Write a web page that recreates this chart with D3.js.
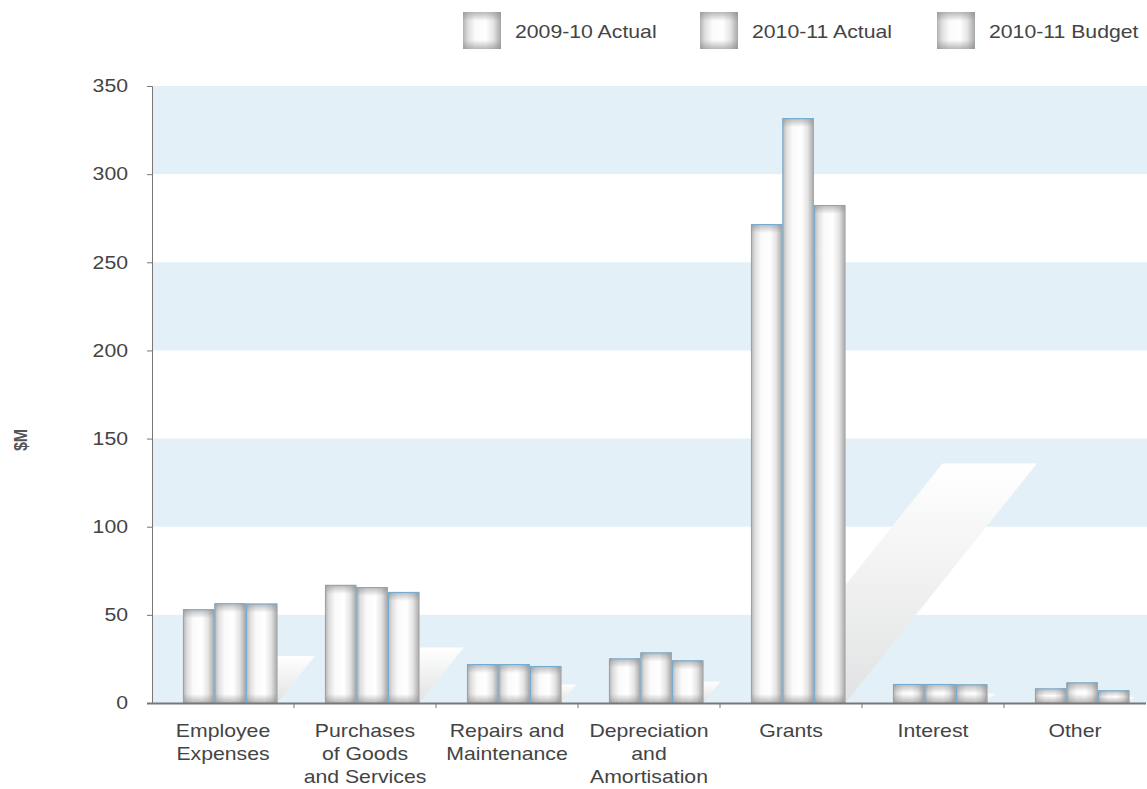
<!DOCTYPE html>
<html>
<head>
<meta charset="utf-8">
<script src="https://cdn.jsdelivr.net/npm/d3@7/dist/d3.min.js"></script>
<style>
  body { margin: 0; background: #fff; }
  text { font-family: "Liberation Sans", Arial, sans-serif; }
</style>
</head>
<body>
<div id="chart-area"></div>
<script>

var categories = [
	["Employee", "Expenses"],
	["Purchases", "of Goods", "and Services"],
	["Repairs and", "Maintenance"],
	["Depreciation", "and", "Amortisation"],
	["Grants"],
	["Interest"],
	["Other"]
];
var seriesNames = ["2009-10 Actual", "2010-11 Actual", "2010-11 Budget"];
var actual0910 = [53.2, 67, 22.1, 25.3, 271.7, 10.8, 8.3];
var actual1011 = [56.6, 65.8, 22.1, 28.7, 331.8, 10.8, 11.7];
var budget1011 = [56.4, 63, 21.0, 24.2, 282.5, 10.6, 7.2];
var yTicks = [0, 50, 100, 150, 200, 250, 300, 350];

var width = 1147, height = 789;
var margin = {top: 86, right: 1, bottom: 86, left: 152};
var stretch = 1.18; // text in the picture is drawn wide

var svg = d3.select("#chart-area").append("svg")
	.attr("width", width)
	.attr("height", height);

var defs = svg.append("defs");

function grad(id, horiz, stops) {
	var g = defs.append("linearGradient").attr("id", id)
		.attr("x1", 0).attr("y1", 0)
		.attr("x2", horiz ? 1 : 0).attr("y2", horiz ? 0 : 1);
	stops.forEach(function(s) {
		g.append("stop").attr("offset", s[0]).attr("stop-color", s[1]).attr("stop-opacity", s[2] == null ? 1 : s[2]);
	});
}
grad("barH", true, [[0, "#b2b2b2"], [0.13, "#dedede"], [0.32, "#fafafa"], [0.6, "#ffffff"], [0.8, "#e4e4e4"], [1, "#a6a6a6"]]);
grad("fadeDown", false, [[0, "#8a8a8a", 0.6], [1, "#8a8a8a", 0]]);
grad("fadeUp", false, [[0, "#8a8a8a", 0], [1, "#8a8a8a", 0.6]]);
grad("shadowGrad", false, [[0, "#ffffff"], [1, "#e1e2e3"]]);

// white box with soft grey edges
function shadedBox(sel, bx, by, bw, bh) {
	var e = function(f) { return typeof f === "function" ? f : function() { return f; }; };
	bx = e(bx); by = e(by); bw = e(bw); bh = e(bh);
	var strip = function(d) { return Math.min(9, bh(d) / 2); };
	sel.append("rect")
		.attr("x", bx).attr("y", by).attr("width", bw).attr("height", bh)
		.attr("fill", "url(#barH)");
	sel.append("rect")
		.attr("x", bx).attr("y", by).attr("width", bw).attr("height", strip)
		.attr("fill", "url(#fadeDown)");
	sel.append("rect")
		.attr("x", bx).attr("y", function(d) { return by(d) + bh(d) - strip(d); })
		.attr("width", bw).attr("height", strip)
		.attr("fill", "url(#fadeUp)");
}

var data = categories.map(function(c, i) {
	return {cat: c.join(" "), lines: c, values: [actual0910[i], actual1011[i], budget1011[i]]};
});

var x0 = d3.scaleBand()
	.domain(data.map(function(d) { return d.cat; }))
	.range([margin.left, width - margin.right]);

var bw = x0.bandwidth();
var groupOffset = bw * 0.218;

var x1 = d3.scaleBand()
	.domain(seriesNames)
	.range([0, bw * 0.665]);

var y = d3.scaleLinear()
	.domain([0, 350])
	.range([height - margin.bottom, margin.top]);

// alternating bands
var bandStarts = yTicks.filter(function(t, i) { return i < yTicks.length - 1 && (t / 50) % 2 == 0; });
svg.selectAll("rect.band")
	.data(bandStarts)
	.enter().append("rect")
	.attr("class", "band")
	.attr("x", margin.left)
	.attr("width", width - margin.left)
	.attr("y", function(d) { return y(d + 50); })
	.attr("height", function(d) { return y(d) - y(d + 50); })
	.attr("fill", "#e4f0f8");

// slanted shadows behind each group
svg.selectAll("polygon.shadow")
	.data(data)
	.enter().append("polygon")
	.attr("class", "shadow")
	.attr("fill", "url(#shadowGrad)")
	.attr("points", function(d) {
		var gx0 = x0(d.cat) + groupOffset;
		var gx1 = gx0 + x1.range()[1];
		var base = y(0);
		var h = base - y(d3.min(d.values) * 0.5);
		var s = h * 0.8;
		return [[gx0, base], [gx1, base], [gx1 + s, base - h], [gx0 + s, base - h]].join(" ");
	});

// bars
var groups = svg.selectAll("g.group")
	.data(data)
	.enter().append("g")
	.attr("class", "group")
	.attr("transform", function(d) { return "translate(" + (x0(d.cat) + groupOffset) + ",0)"; });

var bars = groups.selectAll("g.bar")
	.data(function(d) { return d.values.map(function(v, i) { return {key: seriesNames[i], value: v}; }); })
	.enter().append("g")
	.attr("class", "bar");

shadedBox(bars,
	function(d) { return x1(d.key); },
	function(d) { return y(d.value); },
	x1.bandwidth(),
	function(d) { return y(0) - y(d.value); });

bars.append("line")
	.attr("stroke", "#a9a9a9")
	.attr("x1", function(d) { return x1(d.key) + x1.bandwidth() - 0.5; })
	.attr("x2", function(d) { return x1(d.key) + x1.bandwidth() - 0.5; })
	.attr("y1", function(d) { return y(d.value) + 1; })
	.attr("y2", y(0));

bars.append("path")
	.attr("fill", "none")
	.attr("stroke", "#72acd4")
	.attr("stroke-width", 1)
	.attr("d", function(d) {
		var bx = x1(d.key) + 0.5, by = y(d.value) + 0.5;
		return "M" + bx + "," + y(0) + "V" + by + "H" + (bx + x1.bandwidth() - 1);
	});

// y axis
var yAxis = d3.axisLeft(y)
	.tickValues(yTicks)
	.tickSize(5)
	.tickPadding(19);

var yg = svg.append("g")
	.attr("transform", "translate(" + margin.left + ",0)")
	.call(yAxis);
yg.select(".domain").attr("stroke", "#777");
yg.selectAll(".tick line").attr("stroke", "#777");
yg.selectAll(".tick text")
	.attr("x", -24 / stretch)
	.attr("transform", "scale(" + stretch + ",1)")
	.attr("fill", "#444")
	.style("font-size", "18px")
	.style("font-family", "Liberation Sans, Arial, sans-serif");

// x axis
var xg = svg.append("g");
xg.append("line")
	.attr("x1", margin.left - 5).attr("x2", width - margin.right)
	.attr("y1", y(0) + 0.5).attr("y2", y(0) + 0.5)
	.attr("stroke", "#777").attr("stroke-width", 2);
xg.selectAll("line.xtick")
	.data(data.slice(1))
	.enter().append("line")
	.attr("class", "xtick")
	.attr("x1", function(d) { return x0(d.cat); })
	.attr("x2", function(d) { return x0(d.cat); })
	.attr("y1", y(0)).attr("y2", y(0) + 5)
	.attr("stroke", "#777");

var labels = xg.selectAll("text.cat")
	.data(data)
	.enter().append("text")
	.attr("class", "cat")
	.attr("text-anchor", "middle")
	.attr("transform", function(d) { return "translate(" + (x0(d.cat) + bw / 2) + ",0) scale(" + stretch + ",1)"; })
	.attr("fill", "#444")
	.style("font-size", "18px");
labels.selectAll("tspan")
	.data(function(d) { return d.lines; })
	.enter().append("tspan")
	.attr("x", 0)
	.attr("y", function(d, i) { return 737 + i * 23; })
	.text(function(d) { return d; });

// y title
svg.append("text")
	.attr("transform", "translate(27,440) scale(" + stretch + ",1) rotate(-90)")
	.attr("text-anchor", "middle")
	.attr("fill", "#555")
	.style("font-size", "16px")
	.style("font-weight", "bold")
	.text("$M");

// legend
var legendX = [463, 700, 937];
var legend = svg.selectAll("g.legend")
	.data(seriesNames)
	.enter().append("g")
	.attr("class", "legend")
	.attr("transform", function(d, i) { return "translate(" + legendX[i] + ",12)"; });
shadedBox(legend, 0, 0, 38, 37);
legend.append("text")
	.attr("transform", "translate(52,26) scale(" + stretch + ",1)")
	.attr("fill", "#444")
	.style("font-size", "18px")
	.text(function(d) { return d; });

</script>
</body>
</html>
